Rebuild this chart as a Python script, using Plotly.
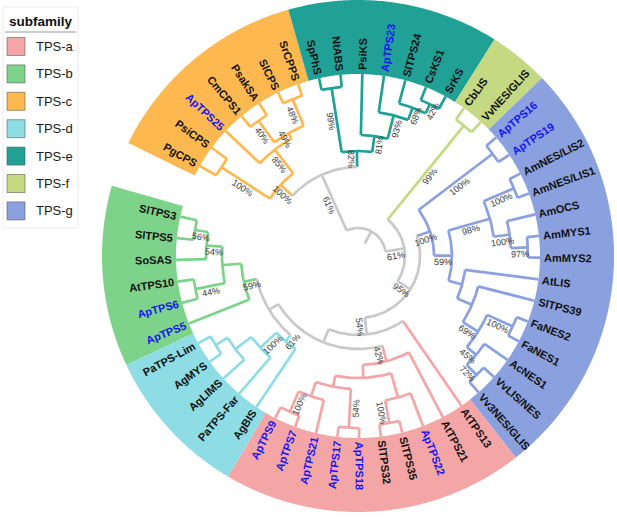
import math
import plotly.graph_objects as go

# ---------------- data ----------------
tip_labels = ["SlTPS3", "SlTPS5", "SoSAS", "AtTPS10", "ApTPS6", "ApTPS5",
              "PaTPS-Lim", "AgMYS", "AgLIMS", "PaTPS-Far", "AgBIS",
              "ApTPS9", "ApTPS7", "ApTPS21", "ApTPS17", "ApTPS18", "SlTPS32", "SlTPS35",
              "ApTPS22", "AtTPS21", "AtTPS13",
              "Vv3NES/GLIS", "VvLIS/NES", "AcNES1", "FaNES1", "FaNES2", "SlTPS39", "AtLIS",
              "AmMYS2", "AmMYS1", "AmOCS", "AmNES/LIS1", "AmNES/LIS2", "ApTPS19", "ApTPS16",
              "VvNES/GLIS", "CbLIS",
              "SrKS", "CsKS1", "SlTPS24", "ApTPS23", "PsiKS", "NtABS", "SpPhS",
              "SrCPPS", "SlCPS", "PsakSA", "CmCPS1", "ApTPS25", "PsiCPS", "PgCPS"]
tip_groups = ["TPS-b", "TPS-b", "TPS-b", "TPS-b", "TPS-b", "TPS-b",
              "TPS-d", "TPS-d", "TPS-d", "TPS-d", "TPS-d",
              "TPS-a", "TPS-a", "TPS-a", "TPS-a", "TPS-a", "TPS-a", "TPS-a",
              "TPS-a", "TPS-a", "TPS-a",
              "TPS-g", "TPS-g", "TPS-g", "TPS-g", "TPS-g", "TPS-g", "TPS-g",
              "TPS-g", "TPS-g", "TPS-g", "TPS-g", "TPS-g", "TPS-g", "TPS-g",
              "TPS-f", "TPS-f",
              "TPS-e", "TPS-e", "TPS-e", "TPS-e", "TPS-e", "TPS-e", "TPS-e",
              "TPS-c", "TPS-c", "TPS-c", "TPS-c", "TPS-c", "TPS-c", "TPS-c"]

group_names = ["TPS-a", "TPS-b", "TPS-c", "TPS-d", "TPS-e", "TPS-f", "TPS-g"]
group_colors = ["#F4A6A6", "#7ED38A", "#FDB94F", "#8EDCE4", "#21A196", "#C5D983", "#8AA0DF"]

# internal nodes: name, children, depth (tips = 100), bootstrap support
node_names = ["Root", "CE", "N3", "P", "N2", "N1", "N1a", "N1b",
              "T0", "A", "B", "C", "D", "E",
              "X", "F", "Y", "G0", "G1", "G2", "H4", "H1", "H3", "H2",
              "V6", "V5", "V4", "V3", "V2", "V1",
              "Z", "Zp", "P1", "Q7", "Q4", "Q3", "Q1", "Q2", "Q6", "Q5",
              "W", "GB0", "GB4", "GB2", "GB1", "GB3", "C4", "C3", "C2", "C1"]
node_children = [["CE", "X"], ["N3", "T0"], ["N2", "P"], ["PsiCPS", "PgCPS"], ["N1", "ApTPS25"],
                 ["N1a", "N1b"], ["SrCPPS", "SlCPS"], ["PsakSA", "CmCPS1"],
                 ["A", "B"], ["NtABS", "SpPhS"], ["PsiKS", "C"], ["ApTPS23", "D"],
                 ["SlTPS24", "E"], ["SrKS", "CsKS1"],
                 ["F", "Y"], ["CbLIS", "VvNES/GLIS"], ["G0", "Z"], ["G1", "G2"],
                 ["ApTPS19", "ApTPS16"], ["H4", "V6"], ["H1", "H3"],
                 ["AmNES/LIS1", "AmNES/LIS2"], ["AmOCS", "H2"], ["AmMYS2", "AmMYS1"],
                 ["V5", "AtLIS"], ["V4", "SlTPS39"], ["V2", "V3"], ["FaNES1", "FaNES2"],
                 ["V1", "AcNES1"], ["Vv3NES/GLIS", "VvLIS/NES"],
                 ["Zp", "AtTPS13"], ["W", "P1"], ["Q7", "AtTPS21"], ["Q4", "Q6"],
                 ["Q3", "Q2"], ["Q1", "ApTPS21"], ["ApTPS9", "ApTPS7"], ["ApTPS17", "ApTPS18"],
                 ["Q5", "ApTPS22"], ["SlTPS32", "SlTPS35"],
                 ["GB0", "C4"], ["GB4", "ApTPS5"], ["GB2", "GB3"], ["GB1", "SoSAS"],
                 ["SlTPS3", "SlTPS5"], ["AtTPS10", "ApTPS6"],
                 ["C3", "AgBIS"], ["C2", "PaTPS-Far"], ["C1", "AgLIMS"], ["PaTPS-Lim", "AgMYS"]]
node_depth = [15.4, 48.9, 57.7, 89.6, 74.2, 77.5, 93.4, 92.3,
              57.7, 93.4, 66.5, 79.7, 86.8, 92.3,
              25.8, 92.3, 34.1, 41.8, 92.9, 51.6, 75.3, 93.4, 84.1, 93.4,
              59.3, 68.1, 78.0, 93.4, 84.6, 92.3,
              43.4, 51.1, 59.9, 67.0, 73.1, 81.3, 93.4, 94.5, 80.8, 93.4,
              57.1, 64.3, 74.7, 83.5, 90.7, 91.2, 61.5, 73.6, 84.6, 92.3]
node_support = [None, 61, 100, 100, 85, 49, 48, 40,
                82, 99, 81, 93, 68, 42,
                61, 99, 95, 100, 100, 59, 98, 100, 100, 97,
                None, None, 69, 100, 45, 72,
                54, None, 42, None, None, None, 100, 54, None, 100,
                None, 59, None, 54, 56, 44, 61, 100, None, None]
root_edge_depth = 7.7

# ---------------- layout constants ----------------
CX, CY = 358, 256          # centre in page pixels
TIP_R = 182                 # radius of tips (depth 100)
RING_OUT = 256
START_DEG = 167.5
SLOTS = len(tip_labels) + 1.5
STEP = 360.0 / SLOTS
GRAY = "#C9C9C9"
LW = 2.7


def px(x, y):
    return x - CX, CY - y


def deg_of(slot):
    return START_DEG + STEP * slot


def pol(r, d):
    a = math.radians(d)
    return r * math.cos(a), r * math.sin(a)


# ---------------- tree geometry ----------------
slot, rad, children, parent = {}, {}, {}, {}
for i, t in enumerate(tip_labels):
    slot[t] = i
    rad[t] = TIP_R
group_of = dict(zip(tip_labels, tip_groups))
color_of_group = dict(zip(group_names, group_colors))
for n, ch, d in zip(node_names, node_children, node_depth):
    children[n] = ch
    rad[n] = d / 100.0 * TIP_R
    for c in ch:
        parent[c] = n
support = dict(zip(node_names, node_support))


def calc_slot(n):
    if n in slot:
        return slot[n]
    s = sum(calc_slot(c) for c in children[n]) / len(children[n])
    slot[n] = s
    return s


def tips_of(n):
    if n not in children:
        return [n]
    out = []
    for c in children[n]:
        out += tips_of(c)
    return out


calc_slot("Root")
ncolor = {}
for n in list(tip_labels) + node_names:
    gs = set(group_of[t] for t in tips_of(n))
    ncolor[n] = color_of_group[gs.pop()] if len(gs) == 1 else GRAY

segs = {}


def add_seg(col, xs, ys):
    s = segs.setdefault(col, ([], []))
    s[0].extend(xs + [None])
    s[1].extend(ys + [None])


# radial stems
for n in list(tip_labels) + node_names:
    if n == "Root":
        continue
    d = deg_of(slot[n])
    x0, y0 = pol(rad[parent[n]], d)
    x1, y1 = pol(rad[n], d)
    add_seg(ncolor[n], [x0, x1], [y0, y1])
# root edge
d = deg_of(slot["Root"])
x0, y0 = pol(root_edge_depth / 100 * TIP_R, d)
x1, y1 = pol(rad["Root"], d)
add_seg(GRAY, [x0, x1], [y0, y1])
# arcs
for n in node_names:
    a0 = deg_of(min(slot[c] for c in children[n]))
    a1 = deg_of(max(slot[c] for c in children[n]))
    k = max(2, int(abs(a1 - a0)) + 2)
    xs, ys = [], []
    for j in range(k + 1):
        x, y = pol(rad[n], a0 + (a1 - a0) * j / k)
        xs.append(x)
        ys.append(y)
    add_seg(ncolor[n], xs, ys)

fig = go.Figure()

# highlight sectors
for g, col in zip(group_names, group_colors):
    idx = [i for i, t in enumerate(tip_groups) if t == g]
    a0 = deg_of(min(idx) - 0.5)
    a1 = deg_of(max(idx) + 0.5)
    k = int(abs(a1 - a0)) * 2 + 2
    xs, ys = [], []
    for j in range(k + 1):
        x, y = pol(RING_OUT, a0 + (a1 - a0) * j / k)
        xs.append(x); ys.append(y)
    for j in range(k, -1, -1):
        x, y = pol(TIP_R, a0 + (a1 - a0) * j / k)
        xs.append(x); ys.append(y)
    fig.add_trace(go.Scatter(x=xs, y=ys, fill="toself", fillcolor=col, mode="none",
                             hoverinfo="skip", showlegend=False))

for col, (xs, ys) in segs.items():
    fig.add_trace(go.Scatter(x=xs, y=ys, mode="lines",
                             line=dict(color=col, width=LW),
                             hoverinfo="skip", showlegend=False))

# ---------------- text ----------------
BOLD_W = {**dict(zip("ABCDEFGHIJKLMNOPQRSTUVWXYZ",
                     [722, 722, 722, 722, 667, 611, 778, 722, 278, 556, 722, 611, 833, 722, 778,
                      667, 778, 722, 667, 611, 722, 667, 944, 667, 667, 611])),
          **dict(zip("abcdefghijklmnopqrstuvwxyz",
                     [556, 611, 556, 611, 556, 333, 611, 611, 278, 278, 556, 278, 889, 611, 611,
                      611, 611, 389, 556, 333, 611, 556, 778, 556, 556, 500])),
          **{c: 556 for c in "0123456789"}, "/": 278, "-": 333}
FONT = "Liberation Sans, Arial, sans-serif"
TIP_FS = 11


def text_angle(d):
    d = (d + 180) % 360 - 180
    if -90 < d <= 90:
        return -d, True
    ta = 180 - d
    ta = (ta + 180) % 360 - 180
    return ta, False


annotations = []
for t in tip_labels:
    d = deg_of(slot[t])
    w = sum(BOLD_W.get(c, 600) for c in t) * TIP_FS / 1000.0
    r = TIP_R + 4 + w / 2
    x, y = pol(r, d)
    ta, _ = text_angle(d)
    annotations.append(dict(x=x, y=y, text=t, showarrow=False, textangle=ta,
                            xanchor="center", yanchor="middle",
                            font=dict(family=FONT, size=TIP_FS, weight="bold",
                                      color="#1515F0" if t.startswith("Ap") else "#111111")))

for n in node_names:
    if support[n] is None:
        continue
    d = deg_of(slot[n])
    rm = (rad[parent[n]] + rad[n]) / 2
    x, y = pol(rm, d)
    a = math.radians(d)
    ta, right = text_angle(d)
    if right:
        bx, by = math.sin(a), -math.cos(a)
    else:
        bx, by = -math.sin(a), math.cos(a)
    x += 6 * bx
    y += 6 * by
    annotations.append(dict(x=x, y=y, text=f"{support[n]}%", showarrow=False, textangle=ta,
                            xanchor="center", yanchor="middle",
                            font=dict(family=FONT, size=9, color="#3a3a3a")))

# legend
shapes = []
bx0, by0 = px(3, 7)
bx1, by1 = px(78, 228)
shapes.append(dict(type="rect", x0=bx0, y0=by0, x1=bx1, y1=by1,
                   line=dict(color="#EBEBEB", width=1), fillcolor="white", layer="above"))
lx0, ly = px(5, 32)
lx1, _ = px(76, 32)
shapes.append(dict(type="line", x0=lx0, y0=ly, x1=lx1, y1=ly,
                   line=dict(color="#9A9A9A", width=1), layer="above"))
tx, ty = px(7, 21)
annotations.append(dict(x=tx, y=ty, text="<b>subfamily</b>", showarrow=False,
                        xanchor="left", yanchor="middle",
                        font=dict(family=FONT, size=13.5, color="#111111")))
for k, (g, col) in enumerate(zip(group_names, group_colors)):
    cy = 46.5 + 27.4 * k
    sx0, sy0 = px(7, cy - 9)
    sx1, sy1 = px(25, cy + 9)
    shapes.append(dict(type="rect", x0=sx0, y0=sy0, x1=sx1, y1=sy1, fillcolor=col,
                       line=dict(color="rgba(80,80,80,0.55)", width=1), layer="above"))
    gx, gy = px(34, cy)
    annotations.append(dict(x=gx, y=gy, text=g, showarrow=False, xanchor="left",
                            yanchor="middle", font=dict(family=FONT, size=13, color="#1a1a1a")))

# axis ranges: 1 data unit = 1 pixel
fig.update_layout(
    width=617, height=517, margin=dict(l=0, r=0, t=0, b=0),
    paper_bgcolor="white", plot_bgcolor="white", showlegend=False,
    xaxis=dict(range=[-CX, 617 - CX], visible=False, fixedrange=True),
    yaxis=dict(range=[CY - 517, CY], visible=False, fixedrange=True),
    annotations=annotations, shapes=shapes,
)
fig.write_html("out.html", config={"displayModeBar": False, "staticPlot": True},
               post_script="document.body.style.margin='0px';")
